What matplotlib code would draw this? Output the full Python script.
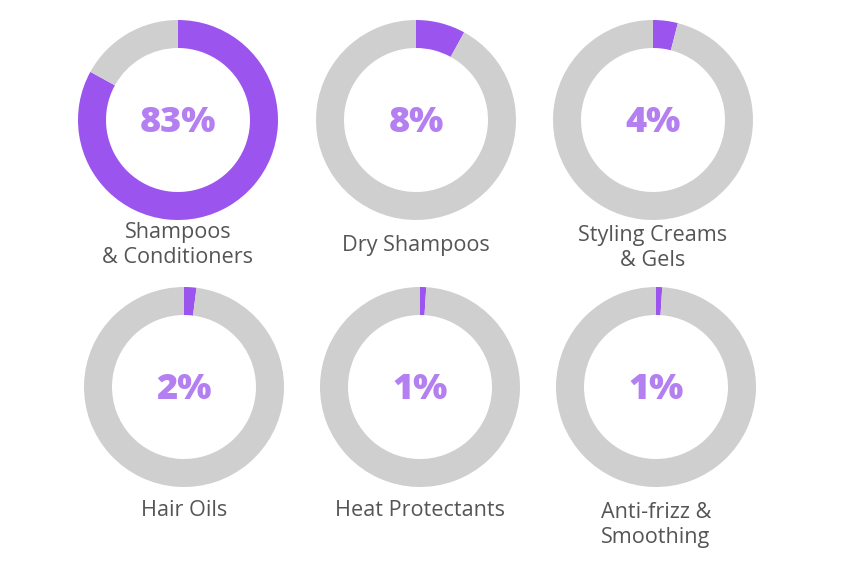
import matplotlib.pyplot as plt

# data
labels = ["Shampoos\n& Conditioners", "Dry Shampoos", "Styling Creams\n& Gels",
          "Hair Oils", "Heat Protectants", "Anti-frizz &\nSmoothing"]
values = [83, 8, 4, 2, 1, 1]

# layout (pixel coords, y measured from top)
centers = [(178, 120), (416, 120), (653, 120), (184, 387), (420, 387), (656, 387)]
label_y = [245, 245, 248, 511, 511, 525]

purple = "#9b55ee"
light_purple = "#b47ff0"
gray = "#d0cfd0"

plt.rcParams['font.family'] = ['Open Sans', 'DejaVu Sans']

fig = plt.figure(figsize=(8.44, 5.68), dpi=100)
ax = fig.add_axes([0, 0, 1, 1])

for lab, v, (cx, cy), ly in zip(labels, values, centers, label_y):
    ax.pie([v, 100 - v], colors=[purple, gray], startangle=90, counterclock=False,
           radius=100, center=(cx, 568 - cy),
           wedgeprops=dict(width=28, linewidth=0))
    ax.text(cx, 568 - cy - 3, f"{v}%", ha="center", va="center", fontsize=26,
            fontweight=800, color=light_purple)
    ax.text(cx, 568 - ly, lab, ha="center", va="center", fontsize=15.6,
            color="#555555", linespacing=1.2)

ax.set_xlim(0, 844)
ax.set_ylim(0, 568)
ax.set_aspect("equal")
ax.axis("off")

fig.savefig("out.png", dpi=100)
